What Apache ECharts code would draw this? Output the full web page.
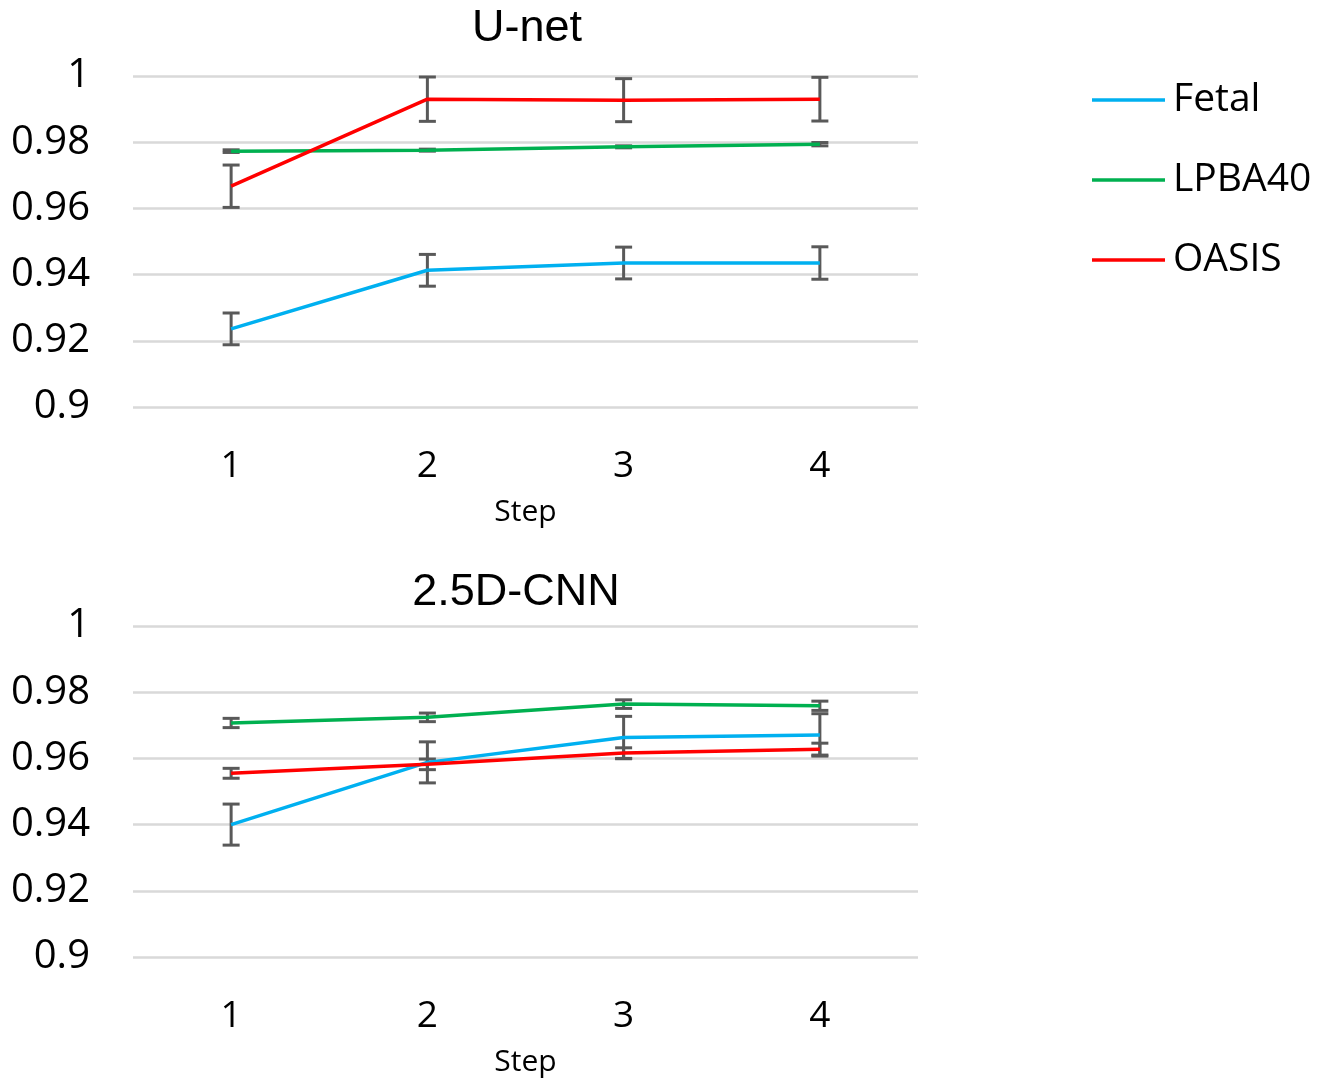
<!DOCTYPE html>
<html>
<head>
<meta charset="utf-8">
<script src="https://cdn.jsdelivr.net/npm/echarts@6/dist/echarts.min.js"></script>
<style>
  html, body { margin: 0; padding: 0; background: #fff; }
  #chart { width: 1337px; height: 1085px; }
</style>
</head>
<body>
<div id="chart"></div>
<script>
// categories
const steps = ['1', '2', '3', '4'];
const seriesNames = ['Fetal', 'LPBA40', 'OASIS'];
const colors = ['#00b0f0', '#00b050', '#ff0000'];

// U-net: mean values and +/- error
const unetFetal = [0.9236, 0.9413, 0.9435, 0.9435];
const unetFetalErr = [0.0048, 0.0048, 0.0048, 0.0049];
const unetLpba = [0.9773, 0.9776, 0.9786, 0.9794];
const unetLpbaErr = [0.0004, 0.0003, 0.0003, 0.0005];
const unetOasis = [0.9667, 0.9930, 0.9927, 0.9930];
const unetOasisErr = [0.0064, 0.0067, 0.0065, 0.0066];

// 2.5D-CNN: mean values and +/- error
const cnnFetal = [0.9400, 0.9588, 0.9663, 0.9671];
const cnnFetalErr = [0.0062, 0.0062, 0.0064, 0.0064];
const cnnLpba = [0.9707, 0.9724, 0.9764, 0.9759];
const cnnLpbaErr = [0.0014, 0.0013, 0.0013, 0.0014];
const cnnOasis = [0.9555, 0.9582, 0.9616, 0.9628];
const cnnOasisErr = [0.0015, 0.0016, 0.0016, 0.0018];

const chart = echarts.init(document.getElementById('chart'));

// error bar: vertical line plus caps
const renderError = (params, api) => {
  const hi = api.coord([api.value(0), api.value(2)]);
  const lo = api.coord([api.value(0), api.value(1)]);
  const w = 8.5;
  const style = { stroke: '#595959', lineWidth: 3 };
  return {
    type: 'group',
    children: [
      { type: 'line', shape: { x1: hi[0], y1: hi[1], x2: lo[0], y2: lo[1] }, style },
      { type: 'line', shape: { x1: hi[0] - w, y1: hi[1], x2: hi[0] + w, y2: hi[1] }, style },
      { type: 'line', shape: { x1: lo[0] - w, y1: lo[1], x2: lo[0] + w, y2: lo[1] }, style }
    ]
  };
};

const errData = (vals, errs) => vals.map((v, i) => [i, v - errs[i], v + errs[i]]);

const lineSeries = (name, data, idx, color) => ({
  name,
  type: 'line',
  xAxisIndex: idx,
  yAxisIndex: idx,
  data,
  symbol: 'none',
  z: 3,
  lineStyle: { color, width: 3.5 },
  itemStyle: { color }
});

const errSeries = (vals, errs, idx) => ({
  type: 'custom',
  xAxisIndex: idx,
  yAxisIndex: idx,
  renderItem: renderError,
  data: errData(vals, errs),
  z: 2,
  silent: true
});

const xAxisOpt = (idx) => ({
  type: 'category',
  gridIndex: idx,
  data: steps,
  boundaryGap: true,
  axisLine: { show: false },
  axisTick: { show: false },
  axisLabel: { color: '#000', fontSize: 37, fontFamily: 'Open Sans', margin: 41 },
  name: 'Step',
  nameLocation: 'middle',
  nameGap: 90,
  nameTextStyle: { color: '#000', fontSize: 30, fontFamily: 'Open Sans' }
});

const yAxisOpt = (idx) => ({
  type: 'value',
  gridIndex: idx,
  min: 0.9,
  max: 1,
  interval: 0.02,
  axisLine: { show: false },
  axisTick: { show: false },
  axisLabel: { color: '#000', fontSize: 40, fontFamily: 'Open Sans', margin: 43 },
  splitLine: { lineStyle: { color: '#d9d9d9', width: 2.5 } }
});

const option = {
  animation: false,
  title: [
    {
      text: 'U-net', left: 522, top: 1, textAlign: 'center',
      textStyle: { fontSize: 45, fontWeight: 'normal', color: '#000', fontFamily: 'Liberation Sans' }
    },
    {
      text: '2.5D-CNN', left: 511, top: 565, textAlign: 'center',
      textStyle: { fontSize: 45, fontWeight: 'normal', color: '#000', fontFamily: 'Liberation Sans' }
    }
  ],
  legend: {
    orient: 'vertical',
    left: 1087,
    top: 75,
    data: seriesNames,
    icon: 'rect',
    itemWidth: 73,
    itemHeight: 3.5,
    itemGap: 40,
    textStyle: { fontSize: 39, fontFamily: 'Open Sans', color: '#000', lineHeight: 40, padding: [0, 0, 0, 3] }
  },
  grid: [
    { left: 133, top: 76, width: 785, height: 331 },
    { left: 133, top: 626, width: 785, height: 331 }
  ],
  xAxis: [xAxisOpt(0), xAxisOpt(1)],
  yAxis: [yAxisOpt(0), yAxisOpt(1)],
  series: [
    errSeries(unetFetal, unetFetalErr, 0),
    errSeries(unetLpba, unetLpbaErr, 0),
    errSeries(unetOasis, unetOasisErr, 0),
    errSeries(cnnFetal, cnnFetalErr, 1),
    errSeries(cnnLpba, cnnLpbaErr, 1),
    errSeries(cnnOasis, cnnOasisErr, 1),
    lineSeries('Fetal', unetFetal, 0, colors[0]),
    lineSeries('LPBA40', unetLpba, 0, colors[1]),
    lineSeries('OASIS', unetOasis, 0, colors[2]),
    lineSeries('Fetal', cnnFetal, 1, colors[0]),
    lineSeries('LPBA40', cnnLpba, 1, colors[1]),
    lineSeries('OASIS', cnnOasis, 1, colors[2])
  ]
};

chart.setOption(option);
</script>
</body>
</html>
